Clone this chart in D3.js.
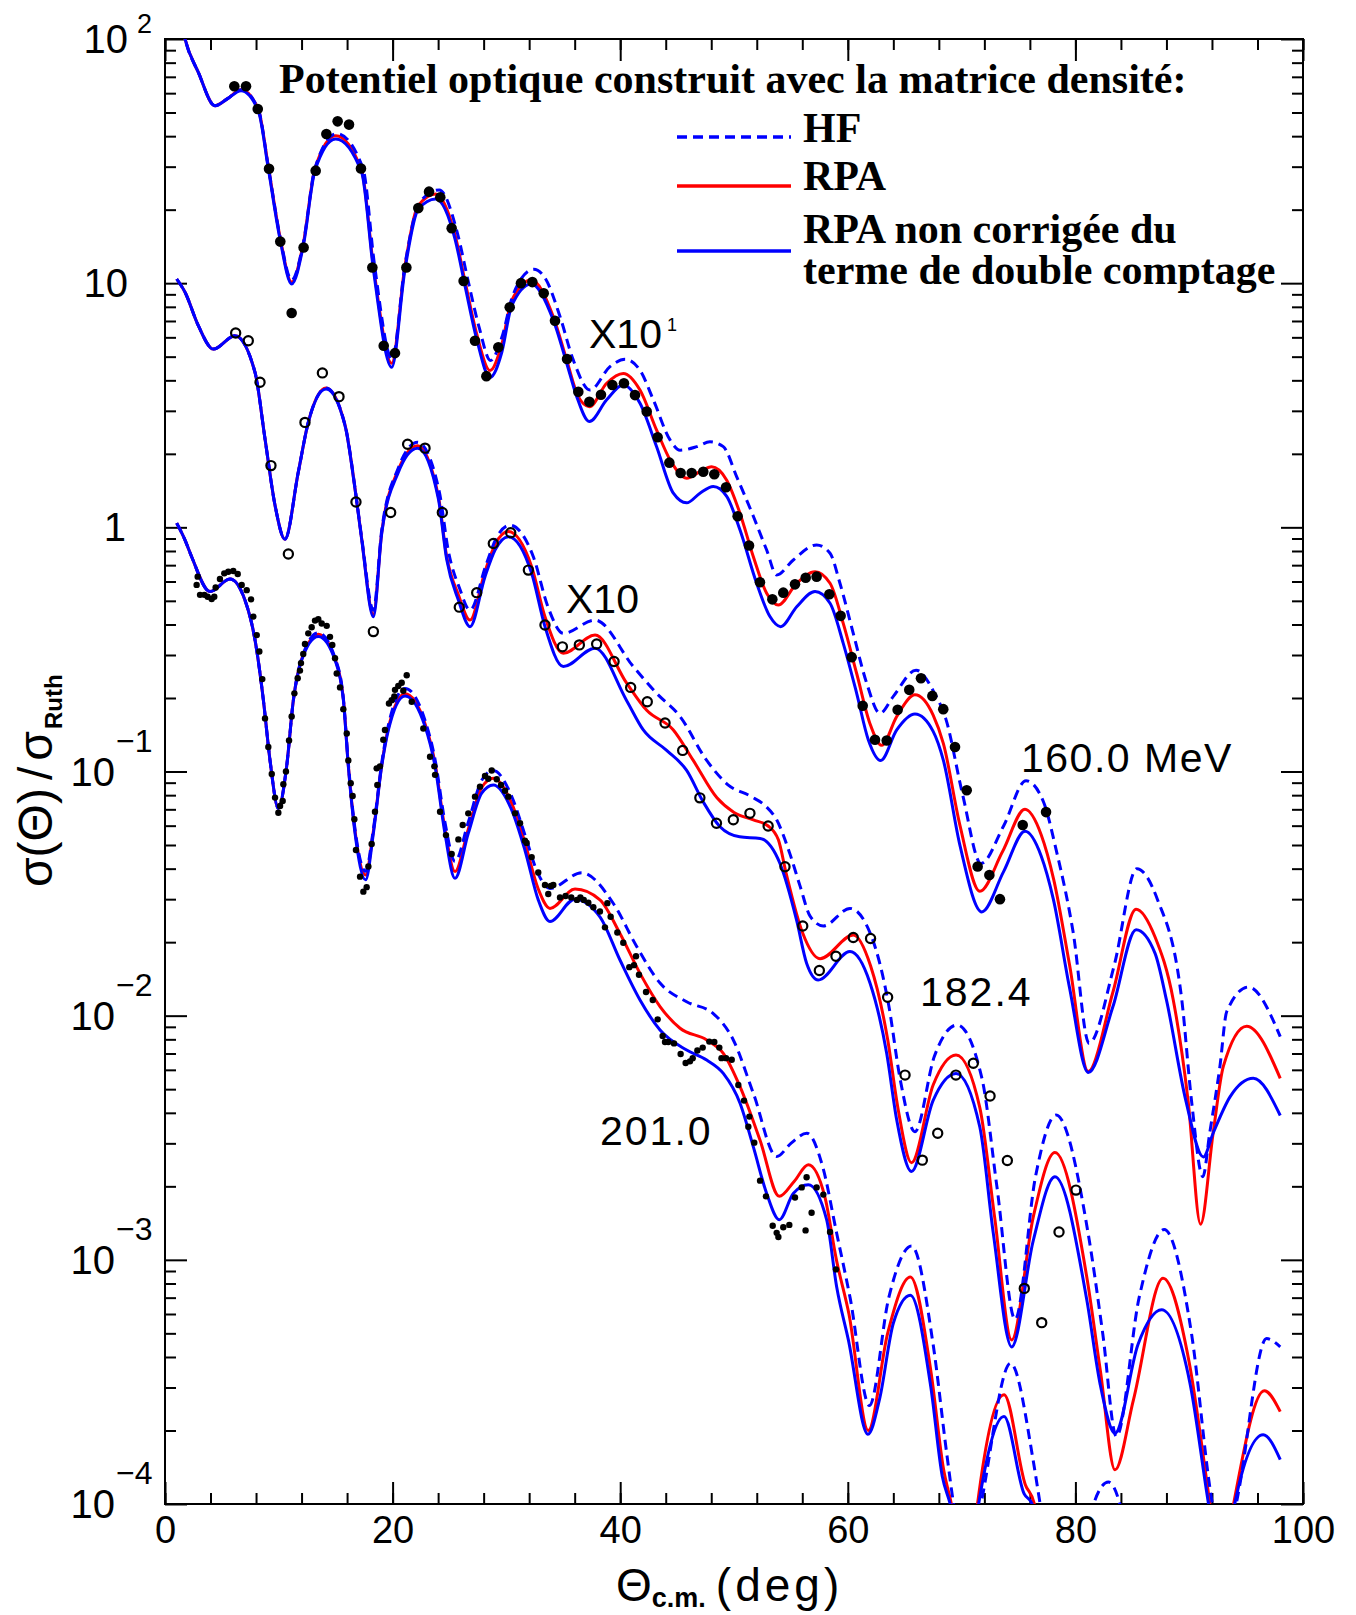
<!DOCTYPE html>
<html>
<head>
<meta charset="utf-8">
<script src="https://cdnjs.cloudflare.com/ajax/libs/d3/7.8.5/d3.min.js"></script>
<style>
  body { margin: 0; background: #fff; }
  svg { display: block; }
</style>
</head>
<body>
<div id="chart"></div>
<script>
// ---- data: [angle (deg), sigma/sigma_Ruth] ----
// 160.0 MeV (x10^1 offset already applied in the figure)
const hf160 = [[1.0,150],[1.76,100],[2.93,73],[4.39,53.3],[5.5,57],[6.68,62],[8.2,51.5],[9.08,30],[10.1,15.6],[11.13,10.3],[12.15,14.6],[13.18,29.6],[15.1,41],[17.4,29.5],[18.4,12],[19.95,4.9],[21.1,12],[22.4,21.5],[24.1,24.1],[25.7,16],[26.6,10.4],[27.6,6.6],[28.6,4.82],[29.6,6.0],[30.6,9.0],[32.4,11.4],[33.4,10.5],[34.71,7.3],[35.88,4.84],[37.35,3.65],[39.1,4.55],[40.42,4.88],[41.74,4.4],[42.91,3.33],[44.38,2.28],[45.26,2.07],[46.72,2.14],[47.89,2.24],[49.06,2.14],[50.24,1.61],[51.7,1.11],[52.87,0.807],[53.75,0.638],[55.21,0.735],[57.26,0.847],[58.44,0.783],[59.31,0.59],[60.48,0.368],[61.66,0.23],[62.83,0.173],[64.0,0.203],[66.0,0.26],[67.6,0.21],[68.6,0.165],[70.1,0.08],[71.7,0.042],[73.7,0.06],[75.66,0.0917],[77.2,0.075],[78.3,0.048],[79.8,0.022],[81.2,0.0077],[83.4,0.016],[85.4,0.040],[87.2,0.03],[89.35,0.0116],[90.2,0.0045],[91.2,0.00219],[91.8,0.0033],[92.7,0.0062],[93.3,0.0104],[95.2,0.0131],[98,0.0082]];
const rpa160 = [[1.0,150],[1.76,100],[2.93,73],[4.39,53.3],[5.5,57],[6.68,62],[8.2,51.5],[9.08,30],[10.1,15.5],[11.13,10.1],[12.15,14.5],[13.18,29.5],[15.0,40.2],[17.28,29],[18.31,11.8],[19.92,4.7],[21.09,11.8],[22.26,20.8],[23.79,23.2],[25.48,15.8],[26.36,10.2],[27.39,6.2],[28.56,4.39],[29.59,5.6],[30.47,8.5],[32.2,10.3],[34.12,7.29],[35.3,4.84],[36.32,3.43],[37.29,3.12],[38.81,3.89],[40.27,4.27],[41.74,3.65],[43.2,2.5],[44.38,1.89],[45.84,1.59],[47.01,1.69],[48.04,1.77],[49.36,1.56],[50.53,1.14],[51.7,0.758],[52.87,0.537],[53.89,0.481],[55.51,0.59],[57.12,0.658],[58.44,0.59],[59.6,0.404],[60.78,0.252],[61.95,0.157],[62.98,0.128],[64.3,0.168],[65.9,0.206],[67.5,0.17],[68.4,0.13],[69.86,0.06],[71.6,0.0323],[73.6,0.047],[75.57,0.070],[77.0,0.055],[78.1,0.036],[79.5,0.016],[81.13,0.0059],[83.3,0.0125],[85.33,0.0273],[87.0,0.021],[88.6,0.0116],[89.9,0.0045],[91.0,0.0014],[92.1,0.0033],[93.0,0.0062],[95.05,0.00906],[98,0.00554]];
const nc160 = [[1.0,150],[1.76,100],[2.93,73],[4.39,53.3],[5.5,57],[6.68,61.4],[8.2,50.8],[9.08,29.4],[10.1,15.2],[11.13,9.93],[12.15,14.2],[13.18,28.9],[15.0,38.9],[17.28,28.4],[18.31,11.4],[19.92,4.52],[21.09,11.4],[22.26,20.1],[23.79,22.1],[25.48,15.2],[26.36,9.77],[27.39,5.9],[28.56,4.11],[29.59,5.2],[30.47,8.1],[32.2,9.93],[34.12,7.06],[35.3,4.7],[36.18,3.43],[37.29,2.71],[38.81,3.33],[40.27,3.83],[41.74,3.22],[43.2,2.14],[44.67,1.38],[45.84,1.26],[47.01,1.38],[48.18,1.47],[49.36,1.34],[50.53,0.975],[51.99,0.59],[53.16,0.431],[54.1,0.392],[55.51,0.473],[57.12,0.546],[58.44,0.489],[59.6,0.335],[60.78,0.209],[61.8,0.135],[62.89,0.111],[64.3,0.148],[65.9,0.172],[67.5,0.146],[68.4,0.111],[69.86,0.0497],[71.77,0.0266],[73.7,0.039],[75.57,0.0569],[77.0,0.045],[78.06,0.030],[79.5,0.0129],[81.13,0.00585],[83.3,0.0109],[85.33,0.0225],[87.0,0.018],[88.0,0.0116],[89.7,0.0045],[91.24,0.00264],[92.1,0.0033],[93.6,0.00466],[95.63,0.00554],[98,0.0039]];

// 182.4 MeV (x10)
const hf182 = [[1.03,10.4],[1.76,9.18],[2.93,6.7],[4.25,5.37],[6.15,6.09],[7.91,4.31],[8.79,2.30],[9.67,1.23],[10.54,0.893],[11.71,1.68],[12.59,2.69],[14.15,3.72],[15.82,2.63],[16.7,1.45],[17.28,0.91],[18.31,0.458],[19.04,0.97],[20.5,1.75],[22.2,2.23],[24.1,1.4],[24.9,0.8],[25.9,0.56],[26.8,0.458],[28.2,0.7],[29.1,0.9],[30.3,1.02],[32.4,0.75],[33.6,0.48],[35.0,0.368],[37.79,0.417],[41.15,0.269],[43.2,0.209],[45.26,0.168],[47.6,0.111],[49.5,0.088],[51.5,0.079],[52.8,0.072],[53.75,0.0634],[54.9,0.0462],[55.8,0.034],[56.7,0.0255],[57.85,0.0233],[60.19,0.0275],[62.1,0.021],[63.6,0.011],[64.6,0.0055],[65.9,0.00335],[67.6,0.0068],[69.6,0.00916],[71.8,0.0055],[73.1,0.002],[74.7,0.00057],[76.5,0.0022],[78.3,0.00392],[81.1,0.0013],[82.4,0.0005],[83.6,0.000189],[85.6,0.0007],[87.8,0.00133],[90.2,0.0005],[91.9,0.00011],[92.7,0.00007],[93.7,0.00008],[94.3,0.00011],[96.8,0.000476],[98,0.00044]];
const rpa182 = [[1.03,10.4],[1.76,9.18],[2.93,6.7],[4.25,5.37],[6.15,6.09],[7.91,4.31],[8.79,2.30],[9.67,1.23],[10.54,0.893],[11.71,1.68],[12.59,2.69],[14.15,3.72],[15.82,2.62],[16.7,1.44],[17.28,0.9],[18.31,0.44],[19.04,0.95],[20.5,1.72],[22.2,2.16],[24.02,1.34],[24.75,0.76],[25.78,0.53],[26.8,0.417],[28.12,0.66],[29.0,0.85],[30.17,0.961],[32.22,0.69],[33.39,0.43],[35.0,0.305],[37.79,0.362],[40.57,0.230],[42.33,0.178],[44.67,0.148],[46.42,0.111],[48.5,0.078],[50.0,0.068],[51.7,0.0634],[53.0,0.0598],[53.9,0.0525],[54.6,0.038],[56.0,0.022],[57.56,0.0171],[60.48,0.0214],[62.0,0.016],[63.5,0.008],[64.4,0.0042],[65.6,0.0025],[67.5,0.0052],[69.51,0.0069],[71.6,0.0042],[72.9,0.0015],[74.4,0.00047],[76.3,0.0015],[78.2,0.00275],[81.0,0.00085],[82.2,0.00035],[83.48,0.000138],[85.1,0.000267],[87.7,0.00084],[90.0,0.00038],[91.7,0.00011],[92.5,0.00006],[93.3,0.00007],[93.9,0.0001],[96.6,0.000291],[98,0.000239]];
const nc182 = [[1.03,10.4],[1.76,9.18],[2.93,6.7],[4.25,5.37],[6.15,6.09],[7.91,4.31],[8.79,2.30],[9.67,1.23],[10.54,0.893],[11.71,1.68],[12.59,2.69],[14.15,3.69],[15.82,2.61],[16.7,1.43],[17.28,0.895],[18.31,0.43],[19.04,0.94],[20.5,1.68],[22.2,2.11],[24.02,1.31],[24.75,0.74],[25.78,0.504],[26.8,0.392],[28.12,0.628],[29.0,0.807],[30.17,0.916],[32.22,0.648],[33.39,0.392],[35.0,0.269],[37.79,0.32],[40.57,0.195],[42.03,0.148],[44.08,0.122],[45.84,0.101],[47.3,0.075],[48.77,0.0594],[50.5,0.054],[52.3,0.0532],[54.04,0.042],[55.5,0.0246],[56.38,0.0164],[57.4,0.014],[60.19,0.0183],[61.95,0.0136],[63.42,0.0070],[64.3,0.00374],[65.6,0.0023],[67.5,0.0045],[69.51,0.0058],[71.6,0.0035],[72.79,0.00128],[74.4,0.00044],[76.3,0.0012],[78.2,0.00219],[81.0,0.000686],[82.16,0.000312],[83.48,0.000195],[85.5,0.00045],[87.58,0.000624],[90.07,0.000312],[91.7,0.0001],[92.5,0.00006],[93.5,0.00007],[94.0,0.0001],[96.5,0.000192],[98,0.000152]];

// 201.0 MeV
const hf201 = [[1.03,1.04],[1.76,0.887],[2.34,0.758],[3.95,0.546],[5.71,0.614],[7.03,0.503],[7.91,0.346],[8.64,0.197],[9.23,0.111],[9.96,0.0707],[10.69,0.105],[11.28,0.196],[12.01,0.29],[13.47,0.37],[14.94,0.292],[15.67,0.2],[16.11,0.108],[16.7,0.058],[17.63,0.039],[18.31,0.058],[19.04,0.108],[19.63,0.155],[21.09,0.219],[22.85,0.162],[23.73,0.112],[24.6,0.062],[25.48,0.0428],[26.65,0.062],[27.83,0.092],[28.85,0.101],[30.47,0.079],[31.63,0.055],[32.8,0.038],[33.83,0.0332],[36.61,0.0385],[39.4,0.0288],[41.45,0.0192],[43.5,0.0136],[45.84,0.0114],[48.18,0.0102],[49.94,0.00795],[51.7,0.00481],[53.75,0.00265],[55.0,0.003],[56.4,0.0033],[57.8,0.0024],[59.0,0.0013],[60.2,0.0007],[61.9,0.000253],[63.6,0.0007],[65.6,0.00114],[67.5,0.00045],[68.7,0.00016],[69.3,0.0001],[70.0,0.00007],[71.0,0.00007],[71.7,0.0001],[74.3,0.000377],[76.3,0.00015],[76.9,0.0001],[78,0.00005],[80,0.00004],[81.6,0.0001],[82.9,0.000123],[83.9,0.0001],[85,0.00005]];
const rpa201 = [[1.03,1.04],[1.76,0.887],[2.34,0.758],[3.95,0.546],[5.71,0.614],[7.03,0.503],[7.91,0.346],[8.64,0.197],[9.23,0.111],[9.96,0.0707],[10.69,0.105],[11.28,0.196],[12.01,0.288],[13.47,0.365],[14.94,0.289],[15.67,0.199],[16.11,0.106],[16.7,0.057],[17.63,0.0377],[18.31,0.057],[19.04,0.106],[19.63,0.151],[21.09,0.208],[22.85,0.157],[23.73,0.108],[24.6,0.058],[25.48,0.0389],[26.65,0.058],[27.83,0.086],[28.85,0.0938],[30.47,0.074],[31.63,0.051],[32.8,0.033],[33.83,0.0275],[36.03,0.033],[38.22,0.0298],[39.98,0.0217],[41.74,0.0149],[43.5,0.0109],[45.26,0.00888],[47.6,0.00795],[49.06,0.00701],[50.53,0.00512],[52.29,0.00309],[53.98,0.00182],[55.3,0.0021],[56.53,0.00245],[58.0,0.0018],[59.0,0.001],[60.1,0.0006],[61.8,0.0002],[63.5,0.0005],[65.5,0.00085],[67.3,0.00035],[68.4,0.00014],[69.1,0.0001],[70.0,0.00006],[71.0,0.00007],[71.4,0.0001],[73.73,0.00028],[75.6,0.00012],[76.4,0.0001],[77,0.00006]];
const nc201 = [[1.03,1.04],[1.76,0.887],[2.34,0.758],[3.95,0.546],[5.71,0.614],[7.03,0.503],[7.91,0.346],[8.64,0.197],[9.23,0.111],[9.96,0.0707],[10.69,0.105],[11.28,0.196],[12.01,0.286],[13.47,0.357],[14.94,0.286],[15.67,0.197],[16.11,0.105],[16.7,0.0558],[17.63,0.036],[18.31,0.0558],[19.04,0.105],[19.63,0.148],[21.09,0.204],[22.85,0.153],[23.73,0.105],[24.6,0.0558],[25.48,0.0365],[26.65,0.0558],[27.83,0.0815],[28.85,0.0881],[30.47,0.0695],[31.63,0.0476],[32.8,0.0298],[33.83,0.0243],[36.0,0.0300],[38.22,0.0254],[39.98,0.0169],[41.74,0.0116],[43.5,0.00873],[45.84,0.00723],[47.6,0.00658],[49.06,0.0058],[50.53,0.00438],[51.7,0.0029],[52.87,0.00187],[53.98,0.00146],[55.21,0.00187],[56.53,0.00203],[58.14,0.00146],[59.02,0.000776],[60.05,0.00047],[61.77,0.000193],[62.8,0.00027],[64.0,0.00055],[65.5,0.000716],[67.3,0.0003],[68.3,0.00013],[69.0,0.0001],[70.0,0.00006],[71.0,0.00007],[71.5,0.0001],[73.73,0.000228],[75.5,0.00011],[76.2,0.0001],[77,0.00006]];

// measured points
const pts160 = [[6.09,64.0],[7.12,64.0],[8.15,51.7],[9.14,29.4],[10.13,14.8],[11.13,7.55],[12.18,14.0],[13.24,28.9],[14.18,40.8],[15.17,46.0],[16.17,44.6],[17.22,29.5],[18.22,11.6],[19.22,5.54],[20.21,5.17],[21.21,11.6],[22.26,20.3],[23.2,23.7],[24.19,22.5],[25.19,16.8],[26.24,10.2],[27.24,5.81],[28.24,4.16],[29.29,5.46],[30.29,7.96],[31.28,10.0],[32.28,10.1],[33.28,9.09],[34.27,7.02],[35.33,4.89],[36.32,3.59],[37.29,3.27],[38.31,3.49],[39.31,3.83],[40.33,3.89],[41.3,3.48],[42.33,2.98],[43.29,2.34],[44.32,1.84],[45.31,1.67],[46.28,1.67],[47.3,1.69],[48.27,1.65],[49.3,1.46],[50.32,1.11],[51.32,0.842],[52.28,0.596],[53.37,0.507],[54.33,0.540],[55.36,0.584],[56.3,0.622],[57.26,0.628],[58.38,0.532],[59.37,0.434],[60.34,0.294],[61.31,0.186],[62.39,0.135],[63.42,0.134],[64.38,0.179],[65.4,0.216],[66.43,0.241],[67.43,0.204],[68.39,0.180],[69.42,0.126],[70.45,0.0838],[71.41,0.0408],[72.44,0.0377],[73.37,0.030],[75.37,0.0604],[77.42,0.0682]];
const pts182 = [[6.21,6.25],[7.32,5.81],[8.35,3.93],[9.31,1.79],[10.84,0.778],[12.3,2.69],[13.83,4.29],[15.29,3.43],[16.78,1.27],[18.31,0.374],[19.83,1.15],[21.32,2.19],[22.85,2.11],[24.37,1.15],[25.86,0.471],[27.39,0.540],[28.85,0.859],[30.38,0.951],[31.93,0.668],[33.39,0.398],[34.92,0.324],[36.41,0.330],[37.93,0.333],[39.46,0.282],[40.92,0.221],[42.38,0.193],[43.94,0.158],[45.49,0.122],[47.0,0.078],[48.46,0.0614],[49.94,0.0634],[51.4,0.0674],[53.0,0.0598],[54.48,0.0407],[56.04,0.0233],[57.5,0.0153],[58.96,0.0175],[60.48,0.0209],[62.0,0.0207],[63.5,0.0119],[65.03,0.00571],[66.55,0.00256],[67.9,0.0033],[69.5,0.00571],[71.03,0.00638],[72.5,0.00469],[74.02,0.00255],[75.51,0.000764],[77.04,0.000553],[78.56,0.0013],[80.05,0.00193]];
const pts201 = [[2.87,0.628],[2.78,0.581],[3.08,0.529],[3.46,0.529],[3.75,0.52],[4.1,0.509],[4.33,0.52],[4.45,0.567],[4.83,0.614],[5.21,0.648],[5.56,0.658],[6.0,0.662],[6.39,0.644],[6.74,0.581],[7.18,0.553],[7.56,0.507],[7.76,0.431],[8.06,0.362],[8.29,0.31],[8.55,0.239],[8.79,0.165],[9.08,0.126],[9.38,0.0977],[9.67,0.0782],[9.96,0.0678],[10.11,0.0722],[10.34,0.0757],[10.4,0.0887],[10.63,0.1],[10.9,0.134],[11.13,0.168],[11.37,0.209],[11.66,0.241],[11.86,0.259],[11.95,0.278],[12.15,0.303],[12.3,0.333],[12.59,0.368],[12.89,0.39],[13.18,0.415],[13.47,0.42],[13.77,0.404],[14.21,0.395],[14.5,0.356],[14.7,0.33],[14.94,0.291],[15.09,0.252],[15.38,0.221],[15.67,0.18],[15.97,0.143],[16.11,0.111],[16.32,0.0896],[16.49,0.0794],[16.64,0.0637],[16.78,0.0477],[17.14,0.0371],[17.43,0.0322],[17.72,0.0336],[17.87,0.0408],[18.16,0.0505],[18.45,0.0684],[18.66,0.0881],[18.6,0.103],[18.89,0.105],[19.18,0.135],[19.33,0.148],[19.68,0.19],[19.92,0.196],[20.15,0.203],[20.21,0.216],[20.5,0.224],[20.8,0.231],[20.94,0.214],[21.24,0.248],[21.68,0.193],[22.7,0.15],[23.29,0.115],[23.67,0.105],[23.73,0.0969],[24.17,0.0684],[24.69,0.0549],[25.19,0.0459],[25.78,0.0527],[26.16,0.0604],[26.65,0.0674],[27.24,0.0789],[27.68,0.0867],[28.12,0.0959],[28.41,0.0934],[28.71,0.101],[29.15,0.0929],[29.53,0.0881],[29.88,0.0834],[30.17,0.0789],[30.76,0.0674],[31.2,0.0614],[31.63,0.0521],[31.78,0.051],[32.22,0.0446],[32.8,0.0386],[33.39,0.0343],[33.68,0.0315],[33.9,0.034],[34.12,0.0343],[34.71,0.0305],[35.2,0.0309],[35.7,0.0305],[36.2,0.0298],[36.5,0.0305],[36.8,0.0298],[37.2,0.029],[37.64,0.0278],[38.22,0.0267],[38.87,0.0289],[38.66,0.023],[39.16,0.0254],[39.75,0.0219],[40.27,0.0199],[40.8,0.0158],[41.21,0.0161],[41.39,0.0175],[41.65,0.0147],[42.27,0.0125],[42.86,0.0116],[43.29,0.00966],[43.73,0.00826],[43.94,0.0078],[44.23,0.0078],[44.73,0.0077],[45.31,0.00697],[45.75,0.0064],[46.13,0.0065],[46.37,0.0067],[46.78,0.0072],[47.25,0.0074],[47.83,0.00783],[48.27,0.0078],[48.71,0.0074],[48.9,0.0067],[49.3,0.0067],[49.8,0.0066],[50.38,0.0052],[50.88,0.00449],[51.35,0.00386],[51.26,0.00351],[51.78,0.00302],[52.29,0.00211],[52.81,0.00182],[53.4,0.00138],[53.75,0.00129],[53.9,0.00124],[54.33,0.00136],[54.86,0.00139],[55.36,0.0018],[55.95,0.00198],[56.38,0.00218],[56.82,0.00156],[56.29,0.00132],[57.26,0.00198],[57.85,0.00185],[58.44,0.0013],[58.96,0.000914]];

const xMajor = [0, 20, 40, 60, 80, 100];
const xMinor = d3.range(0, 101, 4);
const yMajor = [1e-4, 1e-3, 1e-2, 1e-1, 1, 10, 100];

// ---- layout ----
const width = 1356, height = 1615;
const pL = 165, pR = 1303, pT = 39, pB = 1504;

const svg = d3.select('#chart').append('svg')
    .attr('width', width)
    .attr('height', height)
    .style('font-family', '"Liberation Sans", Arial, sans-serif');

const x = d3.scaleLinear().domain([0, 100]).range([pL, pR]);
const y = d3.scaleLog().domain([1e-4, 100]).range([pB, pT]);

let yMinor = [];
yMajor.slice(0, -1).forEach(d => {
  for (let k = 2; k <= 9; k++) yMinor.push(d * k);
});

svg.append('clipPath').attr('id', 'plotclip')
  .append('rect')
    .attr('x', pL).attr('y', pT)
    .attr('width', pR - pL).attr('height', pB - pT);

// axes: ticks all pointing inward
function styleAxis(g) {
  g.select('.domain').remove();
  g.selectAll('.tick line').attr('stroke', '#000').attr('stroke-width', 2);
}

svg.append('g').attr('transform', `translate(0,${pB})`)
  .call(d3.axisBottom(x).tickValues(xMinor).tickSize(-11).tickFormat(''))
  .call(styleAxis);
svg.append('g').attr('transform', `translate(0,${pB})`)
  .call(d3.axisBottom(x).tickValues(xMajor).tickSize(-22).tickPadding(12).tickFormat(d3.format('d')))
  .call(styleAxis)
  .selectAll('text').attr('font-size', 38).attr('fill', '#000')
    .attr('font-family', '"Liberation Sans", Arial, sans-serif');
svg.append('g').attr('transform', `translate(0,${pT})`)
  .call(d3.axisTop(x).tickValues(xMinor).tickSize(-11).tickFormat(''))
  .call(styleAxis);
svg.append('g').attr('transform', `translate(0,${pT})`)
  .call(d3.axisTop(x).tickValues(xMajor).tickSize(-22).tickFormat(''))
  .call(styleAxis);

svg.append('g').attr('transform', `translate(${pL},0)`)
  .call(d3.axisLeft(y).tickValues(yMinor).tickSize(-11).tickFormat(''))
  .call(styleAxis);
svg.append('g').attr('transform', `translate(${pL},0)`)
  .call(d3.axisLeft(y).tickValues(yMajor).tickSize(-22).tickFormat(''))
  .call(styleAxis);
svg.append('g').attr('transform', `translate(${pR},0)`)
  .call(d3.axisRight(y).tickValues(yMinor).tickSize(-11).tickFormat(''))
  .call(styleAxis);
svg.append('g').attr('transform', `translate(${pR},0)`)
  .call(d3.axisRight(y).tickValues(yMajor).tickSize(-22).tickFormat(''))
  .call(styleAxis);

svg.append('rect')
  .attr('x', pL).attr('y', pT)
  .attr('width', pR - pL).attr('height', pB - pT)
  .attr('fill', 'none').attr('stroke', '#000').attr('stroke-width', 2);

// y tick labels: 10 with superscript exponent
yMajor.forEach(v => {
  const e = Math.round(Math.log10(v));
  const yy = y(v);
  const base = e === 0 ? '1' : '10';
  const baseRight = e >= 1 ? 128 : (e === 0 ? 126 : 115);
  svg.append('text')
    .attr('x', baseRight).attr('y', yy + 14)
    .attr('text-anchor', 'end')
    .attr('font-size', 40)
    .text(base);
  if (e === 2 || e < 0) {
    svg.append('text')
      .attr('x', e === 2 ? 137 : 116)
      .attr('y', e === 2 ? yy - 6 : yy - 20)
      .attr('font-size', e === 2 ? 27 : 32)
      .text(e < 0 ? '\u2212' + (-e) : String(e));
  }
});

// axis titles
const xt = svg.append('text').attr('x', 616).attr('y', 1601).attr('font-size', 46);
xt.append('tspan').text('\u0398');
xt.append('tspan').attr('font-size', 27).attr('font-weight', 'bold').attr('dy', 6).text('c.m.');
xt.append('tspan').attr('dy', -6).attr('dx', 10).attr('letter-spacing', 4).text('(deg)');

const yt = svg.append('text')
  .attr('transform', 'translate(52,887) rotate(-90)')
  .attr('font-size', 48);
yt.append('tspan').text('\u03c3(\u0398)');
yt.append('tspan').attr('dx', 8).text('/');
yt.append('tspan').attr('dx', 6).text('\u03c3');
yt.append('tspan').attr('font-size', 24).attr('font-weight', 'bold').attr('dy', 10).attr('dx', 2).text('Ruth');

// curves
const line = d3.line()
  .x(d => x(d[0]))
  .y(d => y(d[1]))
  .curve(d3.curveMonotoneX);

const plot = svg.append('g').attr('clip-path', 'url(#plotclip)');

const curves = [
  {data: rpa160, color: '#ff0000', dash: null},
  {data: rpa182, color: '#ff0000', dash: null},
  {data: rpa201, color: '#ff0000', dash: null},
  {data: hf160, color: '#0000ff', dash: '10,6'},
  {data: hf182, color: '#0000ff', dash: '10,6'},
  {data: hf201, color: '#0000ff', dash: '10,6'},
  {data: nc160, color: '#0000ff', dash: null},
  {data: nc182, color: '#0000ff', dash: null},
  {data: nc201, color: '#0000ff', dash: null}
];

plot.selectAll('path.curve')
  .data(curves)
  .enter()
  .append('path')
    .attr('class', 'curve')
    .attr('d', d => line(d.data))
    .attr('fill', 'none')
    .attr('stroke', d => d.color)
    .attr('stroke-width', 3)
    .attr('stroke-dasharray', d => d.dash);

// measured points
plot.selectAll('circle.p160')
  .data(pts160).enter().append('circle')
    .attr('class', 'p160')
    .attr('cx', d => x(d[0])).attr('cy', d => y(d[1]))
    .attr('r', 5.3).attr('fill', '#000');

plot.selectAll('circle.p182')
  .data(pts182).enter().append('circle')
    .attr('class', 'p182')
    .attr('cx', d => x(d[0])).attr('cy', d => y(d[1]))
    .attr('r', 4.6).attr('fill', 'none')
    .attr('stroke', '#000').attr('stroke-width', 2.2);

plot.selectAll('circle.p201')
  .data(pts201).enter().append('circle')
    .attr('class', 'p201')
    .attr('cx', d => x(d[0])).attr('cy', d => y(d[1]))
    .attr('r', 3.2).attr('fill', '#000');

// energy / scale labels
const lab = svg.append('g').attr('font-size', 41);
lab.append('text').attr('x', 589).attr('y', 348).text('X10');
lab.append('text').attr('x', 667).attr('y', 331).attr('font-size', 18).text('1');
lab.append('text').attr('x', 566).attr('y', 613).text('X10');
lab.append('text').attr('x', 1021).attr('y', 772).attr('letter-spacing', 1.5).text('160.0 MeV');
lab.append('text').attr('x', 920).attr('y', 1006).attr('letter-spacing', 2).text('182.4');
lab.append('text').attr('x', 600).attr('y', 1145).attr('letter-spacing', 2).text('201.0');

// legend
const leg = svg.append('g')
  .attr('font-family', '"Liberation Serif", "Times New Roman", serif')
  .attr('font-weight', 'bold')
  .attr('font-size', 42);
leg.append('text').attr('x', 279).attr('y', 93).text('Potentiel optique construit avec la matrice densit\u00e9:');

const legItems = [
  {y: 137, color: '#0000ff', dash: '10,6', lines: ['HF'], ty: 142},
  {y: 186, color: '#ff0000', dash: null, lines: ['RPA'], ty: 190},
  {y: 251, color: '#0000ff', dash: null, lines: ['RPA non corrig\u00e9e du', 'terme de double comptage'], ty: 243}
];
legItems.forEach(it => {
  leg.append('line')
    .attr('x1', 677).attr('x2', 791)
    .attr('y1', it.y).attr('y2', it.y)
    .attr('stroke', it.color).attr('stroke-width', 3.5)
    .attr('stroke-dasharray', it.dash);
  const t = leg.append('text').attr('x', 803).attr('y', it.ty);
  it.lines.forEach((s, i) => {
    t.append('tspan').attr('x', 803).attr('dy', i === 0 ? 0 : 41).text(s);
  });
});
</script>
</body>
</html>
